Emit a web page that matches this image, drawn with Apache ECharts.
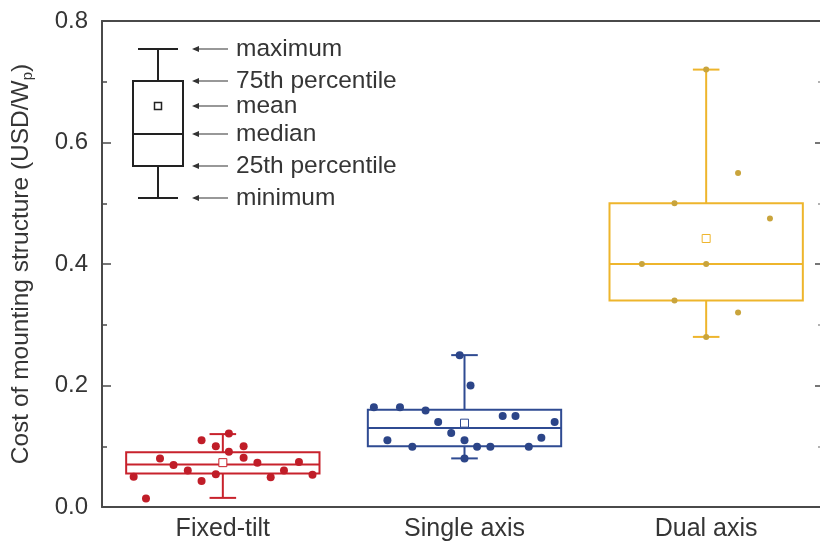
<!DOCTYPE html>
<html>
<head>
<meta charset="utf-8">
<script src="https://cdn.jsdelivr.net/npm/echarts@6/dist/echarts.min.js"></script>
<style>
  html, body { margin: 0; padding: 0; background: #fff; }
  #chart { width: 820px; height: 549px; }
</style>
</head>
<body>
<div id="chart"></div>
<script>
const categories = ['Fixed-tilt', 'Single axis', 'Dual axis'];
const yTicks = [0, 0.2, 0.4, 0.6, 0.8];
// [min, 25th, median, 75th, max, mean]
const fixedStats = [0.015, 0.055, 0.07, 0.09, 0.12, 0.073];
const singleStats = [0.08, 0.10, 0.13, 0.16, 0.25, 0.138];
const dualStats = [0.28, 0.34, 0.40, 0.50, 0.72, 0.442];
// raw points: [offset from category centre, value]
const fixedPoints = [
  [-0.318, 0.014], [-0.369, 0.050], [-0.26, 0.080], [-0.204, 0.069], [-0.145, 0.060],
  [-0.088, 0.110], [-0.088, 0.043], [-0.029, 0.100], [-0.029, 0.054], [0.025, 0.121],
  [0.025, 0.091], [0.086, 0.100], [0.086, 0.081], [0.143, 0.073], [0.198, 0.049],
  [0.253, 0.060], [0.315, 0.074], [0.371, 0.053]
];
const singlePoints = [
  [-0.375, 0.164], [-0.267, 0.164], [-0.161, 0.159], [-0.109, 0.140], [-0.319, 0.110],
  [-0.216, 0.099], [-0.055, 0.122], [0, 0.110], [0.025, 0.200], [0.052, 0.099],
  [0.107, 0.099], [0.158, 0.150], [0.211, 0.150], [0.266, 0.099], [0.318, 0.114],
  [0.373, 0.140], [-0.02, 0.25], [0, 0.08]
];
const dualPoints = [
  [0.132, 0.55], [0.264, 0.475], [-0.131, 0.50], [-0.266, 0.40], [0, 0.40],
  [-0.131, 0.34], [0.132, 0.32], [0, 0.72], [0, 0.28]
];

const colors = ['#c8222c', '#2f4b92', '#eeb52c'];
const dotColors = ['#c01d28', '#2c4588', '#c9a43c'];
const FONT = 'Liberation Sans';
const TEXT = '#353535';
const AXIS = '#4a4a4a';

const allStats = [fixedStats, singleStats, dualStats];
const allPoints = [fixedPoints, singlePoints, dualPoints];

const boxData = allStats.map((s, i) => [i].concat(s));

function renderBox(params, api) {
  const c = api.value(0);
  const col = colors[params.dataIndex];
  const pt = (dx, v) => api.coord([c + dx, v]);
  const minV = api.value(1), q1 = api.value(2), med = api.value(3),
        q3 = api.value(4), maxV = api.value(5), mean = api.value(6);
  const tl = pt(-0.4, q3), br = pt(0.4, q1);
  const ls = { stroke: col, lineWidth: 2, fill: null };
  const line = (a, b) => ({ type: 'line', shape: { x1: a[0], y1: a[1], x2: b[0], y2: b[1] }, style: ls });
  const m = pt(0, mean);
  return {
    type: 'group',
    children: [
      { type: 'rect', shape: { x: tl[0], y: tl[1], width: br[0] - tl[0], height: br[1] - tl[1] }, style: ls },
      line(pt(-0.4, med), pt(0.4, med)),
      line(pt(0, q3), pt(0, maxV)),
      line(pt(0, q1), pt(0, minV)),
      line(pt(-0.055, maxV), pt(0.055, maxV)),
      line(pt(-0.055, minV), pt(0.055, minV)),
      { type: 'rect', shape: { x: m[0] - 4, y: m[1] - 4, width: 8, height: 8 },
        style: { stroke: col, lineWidth: 1, fill: '#fff' } }
    ]
  };
}

const scatterSeries = allPoints.map((pts, i) => ({
  type: 'scatter',
  xAxisIndex: 2,
  yAxisIndex: 0,
  symbolSize: i === 2 ? 6 : 8,
  itemStyle: { color: dotColors[i], opacity: 1 },
  z: 3,
  data: pts.map(p => [i + p[0], p[1]])
}));

// legend diagram (explanatory key, drawn in pixels)
const key = { x: 158, top: 49, q3: 81, mean: 106, med: 134, q1: 166, bottom: 198, half: 25 };
const keyLabels = ['maximum', '75th percentile', 'mean', 'median', '25th percentile', 'minimum'];
const keyY = [key.top, key.q3, key.mean, key.med, key.q1, key.bottom];
const kStroke = { stroke: '#222', lineWidth: 2, fill: null };
const graphics = [
  { type: 'rect', shape: { x: key.x - key.half, y: key.q3, width: key.half * 2, height: key.q1 - key.q3 }, style: kStroke },
  { type: 'line', shape: { x1: key.x - key.half, y1: key.med, x2: key.x + key.half, y2: key.med }, style: kStroke },
  { type: 'line', shape: { x1: key.x, y1: key.top, x2: key.x, y2: key.q3 }, style: kStroke },
  { type: 'line', shape: { x1: key.x, y1: key.q1, x2: key.x, y2: key.bottom }, style: kStroke },
  { type: 'line', shape: { x1: key.x - 20, y1: key.top, x2: key.x + 20, y2: key.top }, style: kStroke },
  { type: 'line', shape: { x1: key.x - 20, y1: key.bottom, x2: key.x + 20, y2: key.bottom }, style: kStroke },
  { type: 'rect', shape: { x: key.x - 3.5, y: key.mean - 3.5, width: 7, height: 7 }, style: { stroke: '#222', lineWidth: 1.5, fill: '#fff' } }
];
keyLabels.forEach((t, i) => {
  const y = keyY[i];
  graphics.push(
    { type: 'line', shape: { x1: 194, y1: y, x2: 228, y2: y }, style: { stroke: '#333', lineWidth: 1.2 } },
    { type: 'polygon', shape: { points: [[192, y], [199, y - 3], [199, y + 3]] }, style: { fill: '#333' } },
    { type: 'text', x: 236, y: y, style: { text: t, font: '24.5px "Liberation Sans"', fill: TEXT, verticalAlign: 'middle' } }
  );
});

const chart = echarts.init(document.getElementById('chart'), null, { renderer: 'canvas' });
chart.setOption({
  animation: false,
  backgroundColor: '#fff',
  grid: { left: 102, top: 21, width: 725, height: 486, outerBoundsMode: 'none', containLabel: false },
  xAxis: [
    {
      type: 'category', position: 'bottom', data: categories,
      axisLine: { onZero: false, lineStyle: { color: AXIS, width: 2 } },
      axisTick: { alignWithLabel: true, inside: false, length: 8, lineStyle: { color: AXIS, width: 1.5 } },
      axisLabel: { fontFamily: FONT, fontSize: 25, color: TEXT, margin: 10 },
      splitLine: { show: false }
    },
    {
      type: 'category', position: 'top', data: categories,
      axisLine: { onZero: false, lineStyle: { color: AXIS, width: 2 } },
      axisTick: { alignWithLabel: true, inside: true, length: 8, lineStyle: { color: AXIS, width: 1.5 } },
      axisLabel: { show: false },
      splitLine: { show: false }
    },
    { type: 'value', min: -0.5, max: 2.5, show: false }
  ],
  yAxis: [
    {
      type: 'value', position: 'left', min: 0, max: 0.8, interval: 0.2,
      name: 'Cost of mounting structure (USD/W{s|p})',
      nameLocation: 'middle', nameGap: 67,
      nameTextStyle: { fontFamily: FONT, fontSize: 24.5, color: TEXT,
        rich: { s: { fontFamily: FONT, fontSize: 15, color: TEXT, padding: [12, 0, 0, 0] } } },
      axisLine: { show: true, onZero: false, lineStyle: { color: AXIS, width: 2 } },
      axisTick: { show: true, inside: true, length: 9, lineStyle: { color: AXIS, width: 1.5 } },
      minorTick: { show: true, splitNumber: 2, length: 5, lineStyle: { color: AXIS, width: 1.5 } },
      axisLabel: { fontFamily: FONT, fontSize: 24, color: TEXT, margin: 14,
        formatter: v => yTicks.indexOf(Math.round(v * 10) / 10) >= 0 ? v.toFixed(1) : '' },
      splitLine: { show: false }
    },
    {
      type: 'value', position: 'right', min: 0, max: 0.8, interval: 0.2,
      axisLine: { show: true, onZero: false, lineStyle: { color: AXIS, width: 2 } },
      axisTick: { show: true, inside: true, length: 12, lineStyle: { color: AXIS, width: 1.5 } },
      minorTick: { show: true, splitNumber: 2, length: 9, lineStyle: { color: '#999', width: 1.5 } },
      axisLabel: { show: false },
      splitLine: { show: false }
    }
  ],
  series: [
    {
      type: 'custom', xAxisIndex: 2, yAxisIndex: 0, z: 2,
      renderItem: renderBox,
      encode: { x: 0, y: [1, 2, 3, 4, 5, 6] },
      data: boxData
    }
  ].concat(scatterSeries),
  graphic: graphics
});
</script>
</body>
</html>
